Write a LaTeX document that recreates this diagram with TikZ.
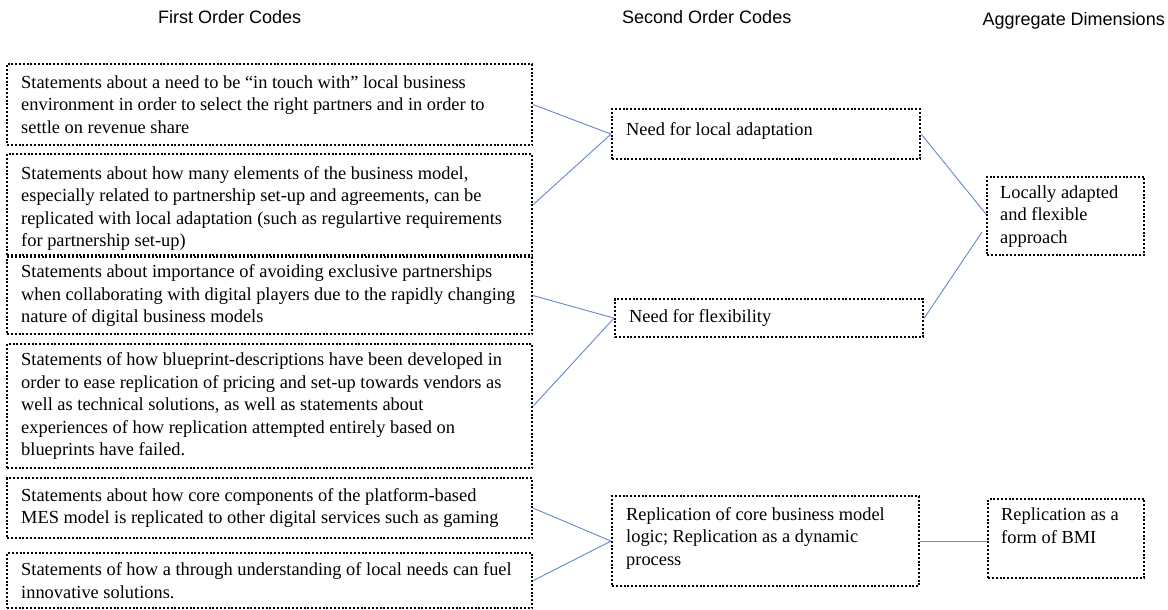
\documentclass[tikz,border=0pt]{standalone}
\usepackage{fontspec}
\setmainfont{Liberation Serif}
\newfontfamily\bodyfont{Liberation Serif}
\newfontfamily\titlefont{Liberation Sans}
\usetikzlibrary{calc}
\definecolor{linkblue}{RGB}{100,135,205}
\tikzset{
  codebox/.style={draw=black, line width=2.2pt, dash pattern=on 2pt off 1.8pt, rectangle, inner sep=0pt, anchor=north west},
  codetext/.style={anchor=west, align=left, inner sep=0pt, font=\bodyfont\fontsize{18.4}{22.5}\selectfont},
  coltitle/.style={inner sep=0pt, font=\titlefont\fontsize{18}{22}\selectfont},
  link/.style={draw=linkblue, line width=0.9pt},
}
\begin{document}
\begin{tikzpicture}[x=1pt,y=-1pt]
\useasboundingbox (0,0) rectangle (1168,610);

% titles
\node[coltitle, anchor=base west] (t1) at (158,24) {First Order Codes};
\node[coltitle, anchor=base west] (t2) at (622,24) {Second Order Codes};
\node[coltitle, anchor=base east] (t3) at (1165,26) {Aggregate Dimensions};

% first order boxes
\node[codebox, minimum width=525pt, minimum height=81pt] (b1) at (6,63) {};
\node[codebox, minimum width=525pt, minimum height=101pt] (b2) at (6,153) {};
\node[codebox, minimum width=525pt, minimum height=77pt] (b3) at (6,256) {};
\node[codebox, minimum width=525pt, minimum height=124pt] (b4) at (6,343) {};
\node[codebox, minimum width=525pt, minimum height=60pt] (b5) at (6,477) {};
\node[codebox, minimum width=525pt, minimum height=55pt] (b6) at (6,552) {};

\node[codetext] (b1t) at ($(b1.west)+(15,0)$) {Statements about a need to be “in touch with” local business\\environment in order to select the right partners and in order to\\settle on revenue share};
\node[codetext] (b2t) at ($(b2.west)+(15,4)$) {Statements about how many elements of the business model,\\especially related to partnership set-up and agreements, can be\\replicated with local adaptation (such as regulartive requirements\\for partnership set-up)};
\node[codetext] (b3t) at ($(b3.west)+(15,0)$) {Statements about importance of avoiding exclusive partnerships\\when collaborating with digital players due to the rapidly changing\\nature of digital business models};
\node[codetext] (b4t) at ($(b4.west)+(15,0)$) {Statements of how blueprint-descriptions have been developed in\\order to ease replication of pricing and set-up towards vendors as\\well as technical solutions, as well as statements about\\experiences of how replication attempted entirely based on\\blueprints have failed.};
\node[codetext] (b5t) at ($(b5.west)+(15,0)$) {Statements about how core components of the platform-based\\MES model is replicated to other digital services such as gaming};
\node[codetext] (b6t) at ($(b6.west)+(15,0)$) {Statements of how a through understanding of local needs can fuel\\innovative solutions.};

% second order boxes
\node[codebox, minimum width=308pt, minimum height=50pt] (m1) at (611,108) {};
\node[codebox, minimum width=308pt, minimum height=38pt] (m2) at (614,298) {};
\node[codebox, minimum width=307pt, minimum height=90pt] (m3) at (611,495) {};

\node[codetext] (m1t) at ($(m1.west)+(15,-3)$) {Need for local adaptation};
\node[codetext] (m2t) at ($(m2.west)+(15,0)$) {Need for flexibility};
\node[codetext] (m3t) at ($(m3.west)+(15,-3)$) {Replication of core business model\\logic; Replication as a dynamic\\process};

% aggregate boxes
\node[codebox, minimum width=157pt, minimum height=78pt] (r1) at (986,176) {};
\node[codebox, minimum width=156pt, minimum height=79pt] (r2) at (987,498) {};

\node[codetext] (r1t) at ($(r1.west)+(14,0)$) {Locally adapted\\and flexible\\approach};
\node[codetext] (r2t) at ($(r2.west)+(14,-13)$) {Replication as a\\form of BMI};

% connectors
\coordinate (r1a) at ($(r1.west)+(0,-2)$);
\coordinate (r1b) at ($(r1.west)+(-4,16)$);
\draw[link] (b1.east) -- (m1.west);
\draw[link] (b2.east) -- (m1.west);
\draw[link] (b3.east) -- (m2.west);
\draw[link] (b4.east) -- (m2.west);
\draw[link] (b5.east) -- (m3.west);
\draw[link] (b6.east) -- (m3.west);
\draw[link] (m1.east) -- (r1a);
\draw[link] (m2.east) -- (r1b);
\draw[link] (m3.east) -- (m3.east -| r2.west);
\end{tikzpicture}
\end{document}
